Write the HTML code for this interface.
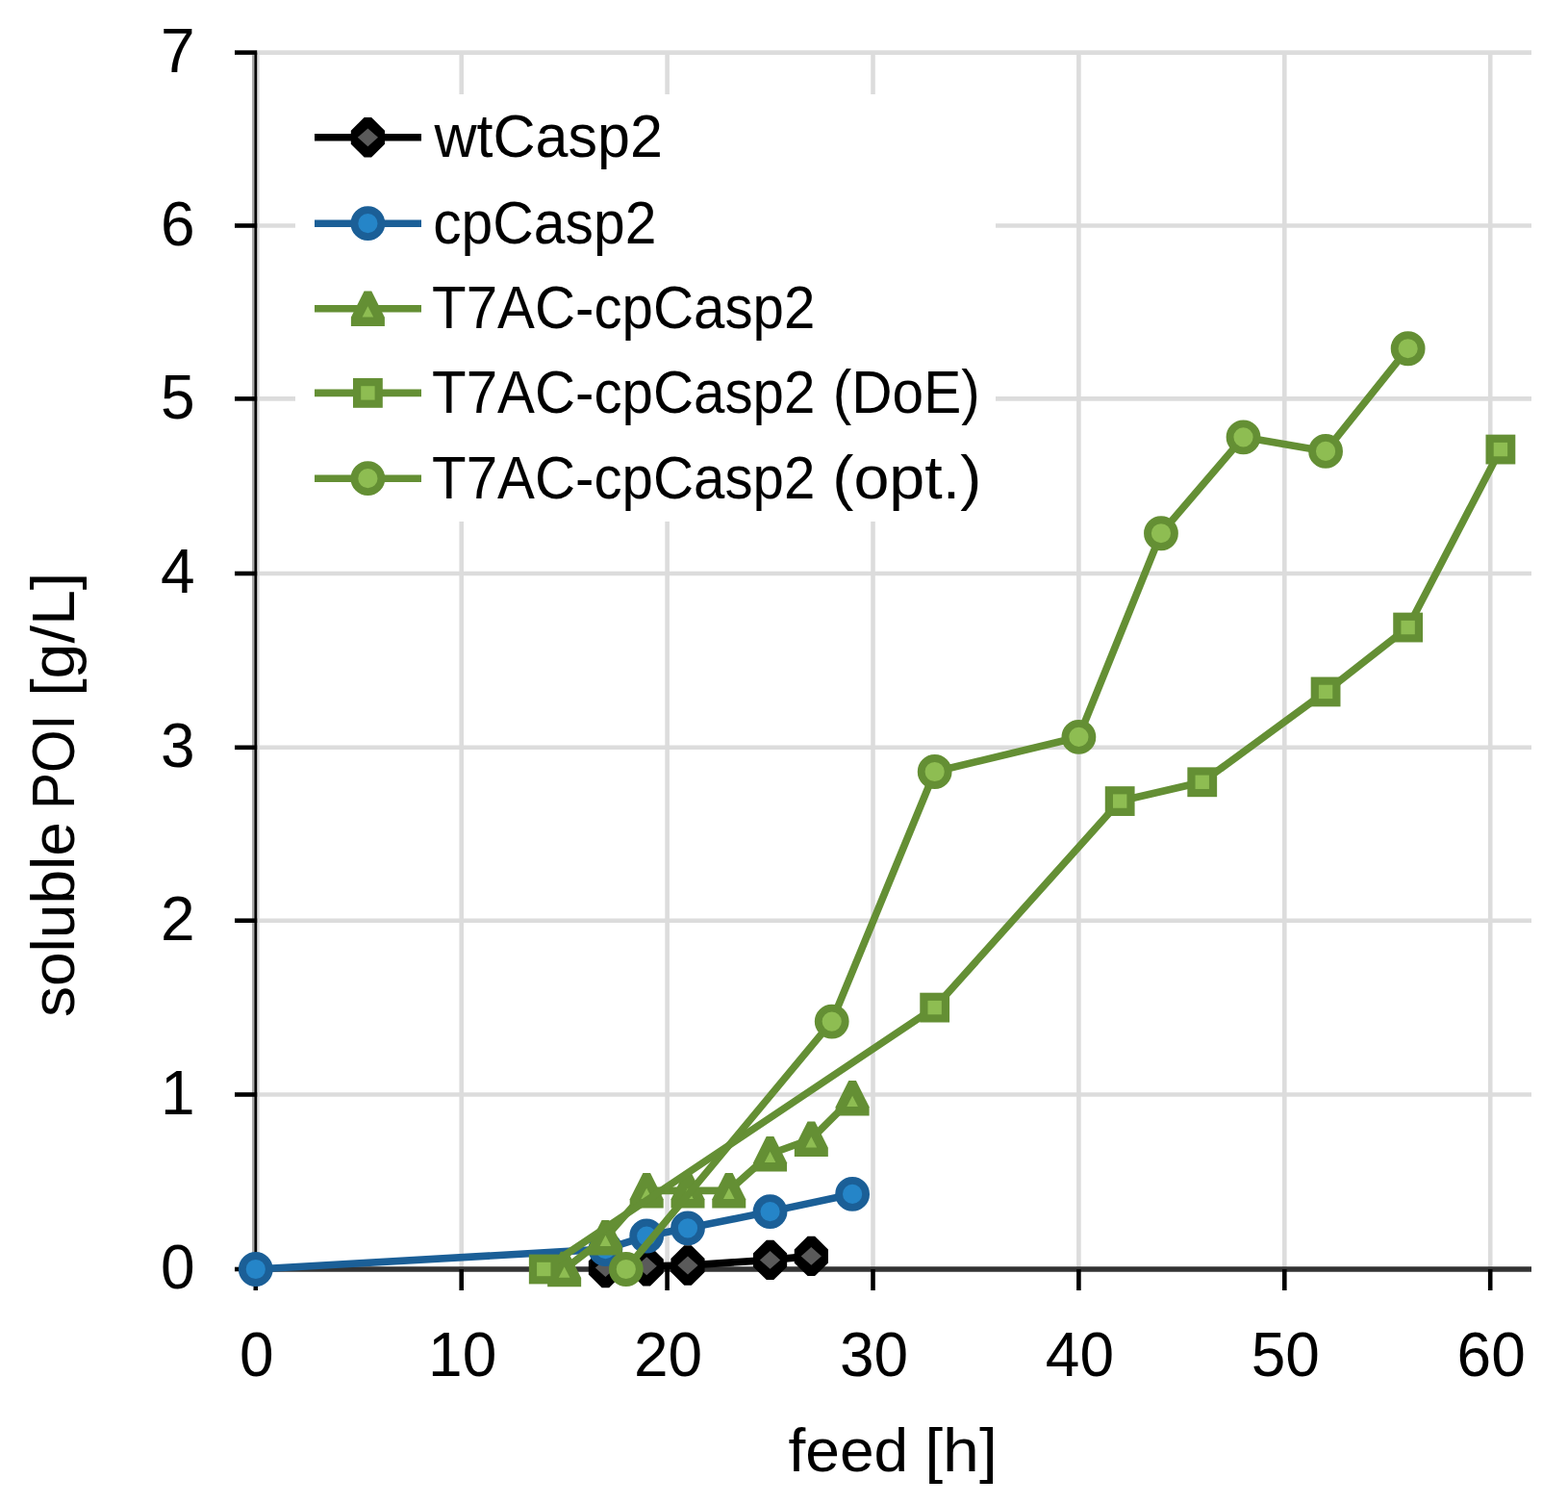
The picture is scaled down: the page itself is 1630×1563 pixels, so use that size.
<!DOCTYPE html>
<html><head><meta charset="utf-8"><title>soluble POI chart</title>
<style>html,body{margin:0;padding:0;background:#fff;}svg{display:block;filter:blur(0.55px);}</style>
</head><body>
<svg width="1630" height="1563" viewBox="0 0 1630 1563"><rect x="0" y="0" width="1630" height="1563" fill="#ffffff"/><g stroke="#dcdcdc" stroke-width="4.6"><line x1="265.8" y1="1137.5" x2="1592" y2="1137.5"/><line x1="265.8" y1="956.7" x2="1592" y2="956.7"/><line x1="265.8" y1="776.8" x2="1592" y2="776.8"/><line x1="265.8" y1="596" x2="1592" y2="596"/><line x1="265.8" y1="414.4" x2="1592" y2="414.4"/><line x1="265.8" y1="234.5" x2="1592" y2="234.5"/><line x1="265.8" y1="54.6" x2="1592" y2="54.6"/><line x1="479.7" y1="54.6" x2="479.7" y2="1319"/><line x1="693.6" y1="54.6" x2="693.6" y2="1319"/><line x1="907.5" y1="54.6" x2="907.5" y2="1319"/><line x1="1121.4" y1="54.6" x2="1121.4" y2="1319"/><line x1="1335.3" y1="54.6" x2="1335.3" y2="1319"/><line x1="1549.2" y1="54.6" x2="1549.2" y2="1319"/></g><rect x="262" y="57.1" width="2.7" height="1261.9" fill="#aaaaaa"/><rect x="267.1" y="57.1" width="2.6" height="1261.9" fill="#dddddd"/><line x1="265.8" y1="1319" x2="1592" y2="1319" stroke="#333333" stroke-width="5.4"/><g stroke="#000" stroke-width="4.6"><line x1="244" y1="1319" x2="267.2" y2="1319"/><line x1="244" y1="1137.5" x2="267.2" y2="1137.5"/><line x1="244" y1="956.7" x2="267.2" y2="956.7"/><line x1="244" y1="776.8" x2="267.2" y2="776.8"/><line x1="244" y1="596" x2="267.2" y2="596"/><line x1="244" y1="414.4" x2="267.2" y2="414.4"/><line x1="244" y1="234.5" x2="267.2" y2="234.5"/><line x1="244" y1="54.6" x2="267.2" y2="54.6"/><line x1="265.8" y1="1319" x2="265.8" y2="1341"/><line x1="479.7" y1="1319" x2="479.7" y2="1341"/><line x1="693.6" y1="1319" x2="693.6" y2="1341"/><line x1="907.5" y1="1319" x2="907.5" y2="1341"/><line x1="1121.4" y1="1319" x2="1121.4" y2="1341"/><line x1="1335.3" y1="1319" x2="1335.3" y2="1341"/><line x1="1549.2" y1="1319" x2="1549.2" y2="1341"/></g><line x1="265.8" y1="54.6" x2="265.8" y2="1319" stroke="#000" stroke-width="2.8"/><g font-family="'Liberation Sans', Arial, sans-serif" font-size="64" fill="#000"><text x="202.5" y="1339.4" text-anchor="end">0</text><text x="202.5" y="1157.9" text-anchor="end">1</text><text x="202.5" y="977.1" text-anchor="end">2</text><text x="202.5" y="797.2" text-anchor="end">3</text><text x="202.5" y="616.4" text-anchor="end">4</text><text x="202.5" y="434.8" text-anchor="end">5</text><text x="202.5" y="254.9" text-anchor="end">6</text><text x="202.5" y="75" text-anchor="end">7</text><text x="266.8" y="1429.5" text-anchor="middle">0</text><text x="480.7" y="1429.5" text-anchor="middle">10</text><text x="694.6" y="1429.5" text-anchor="middle">20</text><text x="908.5" y="1429.5" text-anchor="middle">30</text><text x="1122.4" y="1429.5" text-anchor="middle">40</text><text x="1336.3" y="1429.5" text-anchor="middle">50</text><text x="1550.2" y="1429.5" text-anchor="middle">60</text></g><text transform="translate(819.48,1529.00) scale(1.0171,1)" font-family="'Liberation Sans', Arial, sans-serif" font-size="63">feed</text><text transform="translate(961.18,1529.00) scale(1.0806,1)" font-family="'Liberation Sans', Arial, sans-serif" font-size="63">[h]</text><text transform="translate(77.30,1057.03) rotate(-90) scale(1.0164,1)" font-family="'Liberation Sans', Arial, sans-serif" font-size="63">soluble</text><text transform="translate(77.30,841.04) rotate(-90) scale(0.9071,1)" font-family="'Liberation Sans', Arial, sans-serif" font-size="63">POI</text><text transform="translate(77.30,723.81) rotate(-90) scale(1.0526,1)" font-family="'Liberation Sans', Arial, sans-serif" font-size="63">[g/L]</text><polyline points="629.43,1317.55 672.21,1315.73 714.99,1315.01 800.55,1309.38 843.33,1305.39" fill="none" stroke="#000000" stroke-width="7.6" stroke-linejoin="round"/><polygon points="625.68,1296.85 633.18,1296.85 647.03,1310.55 647.03,1324.55 633.18,1338.25 625.68,1338.25 611.83,1324.55 611.83,1310.55" fill="#000000"/><polygon points="629.43,1308.15 640.03,1317.55 629.43,1326.95 618.83,1317.55" fill="#5a5a5a"/><polygon points="668.46,1295.03 675.96,1295.03 689.81,1308.73 689.81,1322.73 675.96,1336.43 668.46,1336.43 654.61,1322.73 654.61,1308.73" fill="#000000"/><polygon points="672.21,1306.33 682.81,1315.73 672.21,1325.13 661.61,1315.73" fill="#5a5a5a"/><polygon points="711.24,1294.31 718.74,1294.31 732.59,1308.01 732.59,1322.01 718.74,1335.71 711.24,1335.71 697.39,1322.01 697.39,1308.01" fill="#000000"/><polygon points="714.99,1305.61 725.59,1315.01 714.99,1324.41 704.39,1315.01" fill="#5a5a5a"/><polygon points="796.8,1288.68 804.3,1288.68 818.15,1302.38 818.15,1316.38 804.3,1330.08 796.8,1330.08 782.95,1316.38 782.95,1302.38" fill="#000000"/><polygon points="800.55,1299.98 811.15,1309.38 800.55,1318.78 789.95,1309.38" fill="#5a5a5a"/><polygon points="839.58,1284.69 847.08,1284.69 860.93,1298.39 860.93,1312.39 847.08,1326.09 839.58,1326.09 825.73,1312.39 825.73,1298.39" fill="#000000"/><polygon points="843.33,1295.99 853.93,1305.39 843.33,1314.79 832.73,1305.39" fill="#5a5a5a"/><polyline points="265.8,1319 629.43,1298.13 672.21,1284.52 714.99,1276.35 800.55,1259.11 886.11,1240.95" fill="none" stroke="#1b5f97" stroke-width="7.6" stroke-linejoin="round"/><circle cx="265.8" cy="1319" r="14" fill="#2585c8" stroke="#1b5f97" stroke-width="7.8"/><circle cx="629.43" cy="1298.13" r="14" fill="#2585c8" stroke="#1b5f97" stroke-width="7.8"/><circle cx="672.21" cy="1284.52" r="14" fill="#2585c8" stroke="#1b5f97" stroke-width="7.8"/><circle cx="714.99" cy="1276.35" r="14" fill="#2585c8" stroke="#1b5f97" stroke-width="7.8"/><circle cx="800.55" cy="1259.11" r="14" fill="#2585c8" stroke="#1b5f97" stroke-width="7.8"/><circle cx="886.11" cy="1240.95" r="14" fill="#2585c8" stroke="#1b5f97" stroke-width="7.8"/><polyline points="586.65,1319 629.43,1286.33 672.21,1237.33 714.99,1237.33 757.77,1237.33 800.55,1199.21 843.33,1183.78 886.11,1141.13" fill="none" stroke="#648f34" stroke-width="7.6" stroke-linejoin="round"/><polygon points="582.8,1300.75 590.5,1300.75 604.15,1328 604.15,1337.25 569.15,1337.25 569.15,1328" fill="#648f34"/><polygon points="586.65,1316.5 592.45,1327.75 580.85,1327.75" fill="#8ebd52"/><polygon points="625.58,1268.08 633.28,1268.08 646.93,1295.33 646.93,1304.58 611.93,1304.58 611.93,1295.33" fill="#648f34"/><polygon points="629.43,1283.83 635.23,1295.08 623.63,1295.08" fill="#8ebd52"/><polygon points="668.36,1219.08 676.06,1219.08 689.71,1246.33 689.71,1255.58 654.71,1255.58 654.71,1246.33" fill="#648f34"/><polygon points="672.21,1234.83 678.01,1246.08 666.41,1246.08" fill="#8ebd52"/><polygon points="711.14,1219.08 718.84,1219.08 732.49,1246.33 732.49,1255.58 697.49,1255.58 697.49,1246.33" fill="#648f34"/><polygon points="714.99,1234.83 720.79,1246.08 709.19,1246.08" fill="#8ebd52"/><polygon points="753.92,1219.08 761.62,1219.08 775.27,1246.33 775.27,1255.58 740.27,1255.58 740.27,1246.33" fill="#648f34"/><polygon points="757.77,1234.83 763.57,1246.08 751.97,1246.08" fill="#8ebd52"/><polygon points="796.7,1180.96 804.4,1180.96 818.05,1208.21 818.05,1217.46 783.05,1217.46 783.05,1208.21" fill="#648f34"/><polygon points="800.55,1196.71 806.35,1207.96 794.75,1207.96" fill="#8ebd52"/><polygon points="839.48,1165.53 847.18,1165.53 860.83,1192.78 860.83,1202.03 825.83,1202.03 825.83,1192.78" fill="#648f34"/><polygon points="843.33,1181.28 849.13,1192.53 837.53,1192.53" fill="#8ebd52"/><polygon points="882.26,1122.88 889.96,1122.88 903.61,1150.13 903.61,1159.38 868.61,1159.38 868.61,1150.13" fill="#648f34"/><polygon points="886.11,1138.63 891.91,1149.88 880.31,1149.88" fill="#8ebd52"/><polyline points="565.26,1319 971.67,1047.1 1164.18,832.57 1249.74,812.78 1378.08,718.94 1463.64,652.05 1559.89,467.06" fill="none" stroke="#648f34" stroke-width="7.6" stroke-linejoin="round"/><rect x="553.96" y="1307.7" width="22.6" height="22.6" fill="#8ebd52" stroke="#648f34" stroke-width="8.2"/><rect x="960.37" y="1035.8" width="22.6" height="22.6" fill="#8ebd52" stroke="#648f34" stroke-width="8.2"/><rect x="1152.88" y="821.27" width="22.6" height="22.6" fill="#8ebd52" stroke="#648f34" stroke-width="8.2"/><rect x="1238.44" y="801.48" width="22.6" height="22.6" fill="#8ebd52" stroke="#648f34" stroke-width="8.2"/><rect x="1366.78" y="707.64" width="22.6" height="22.6" fill="#8ebd52" stroke="#648f34" stroke-width="8.2"/><rect x="1452.34" y="640.75" width="22.6" height="22.6" fill="#8ebd52" stroke="#648f34" stroke-width="8.2"/><rect x="1548.6" y="455.76" width="22.6" height="22.6" fill="#8ebd52" stroke="#648f34" stroke-width="8.2"/><polyline points="650.82,1319 864.72,1061.56 971.67,801.99 1121.4,765.95 1206.96,554.23 1292.52,454.35 1378.08,468.88 1463.64,362.23" fill="none" stroke="#648f34" stroke-width="7.6" stroke-linejoin="round"/><circle cx="650.82" cy="1319" r="14" fill="#8ebd52" stroke="#648f34" stroke-width="7.8"/><circle cx="864.72" cy="1061.56" r="14" fill="#8ebd52" stroke="#648f34" stroke-width="7.8"/><circle cx="971.67" cy="801.99" r="14" fill="#8ebd52" stroke="#648f34" stroke-width="7.8"/><circle cx="1121.4" cy="765.95" r="14" fill="#8ebd52" stroke="#648f34" stroke-width="7.8"/><circle cx="1206.96" cy="554.23" r="14" fill="#8ebd52" stroke="#648f34" stroke-width="7.8"/><circle cx="1292.52" cy="454.35" r="14" fill="#8ebd52" stroke="#648f34" stroke-width="7.8"/><circle cx="1378.08" cy="468.88" r="14" fill="#8ebd52" stroke="#648f34" stroke-width="7.8"/><circle cx="1463.64" cy="362.23" r="14" fill="#8ebd52" stroke="#648f34" stroke-width="7.8"/><rect x="307" y="98" width="728" height="444" fill="#ffffff"/><line x1="327" y1="142.8" x2="438" y2="142.8" stroke="#000000" stroke-width="7.6"/><polygon points="378.65,122.1 386.15,122.1 400,135.8 400,149.8 386.15,163.5 378.65,163.5 364.8,149.8 364.8,135.8" fill="#000000"/><polygon points="382.4,133.4 393,142.8 382.4,152.2 371.8,142.8" fill="#5a5a5a"/><text transform="translate(451.50,163.20) scale(0.9690,1)" font-family="'Liberation Sans', Arial, sans-serif" font-size="63">wtCasp2</text><line x1="327" y1="232.2" x2="438" y2="232.2" stroke="#1b5f97" stroke-width="7.6"/><circle cx="382.4" cy="232.2" r="14" fill="#2585c8" stroke="#1b5f97" stroke-width="7.8"/><text transform="translate(450.20,252.60) scale(0.9339,1)" font-family="'Liberation Sans', Arial, sans-serif" font-size="63">cpCasp2</text><line x1="327" y1="320.8" x2="438" y2="320.8" stroke="#648f34" stroke-width="7.6"/><polygon points="378.55,302.55 386.25,302.55 399.9,329.8 399.9,339.05 364.9,339.05 364.9,329.8" fill="#648f34"/><polygon points="382.4,318.3 388.2,329.55 376.6,329.55" fill="#8ebd52"/><text transform="translate(449.07,341.20) scale(0.9251,1)" font-family="'Liberation Sans', Arial, sans-serif" font-size="63">T7AC-cpCasp2</text><line x1="327" y1="408.4" x2="438" y2="408.4" stroke="#648f34" stroke-width="7.6"/><rect x="371.1" y="397.1" width="22.6" height="22.6" fill="#8ebd52" stroke="#648f34" stroke-width="8.2"/><text transform="translate(449.07,428.80) scale(0.9251,1)" font-family="'Liberation Sans', Arial, sans-serif" font-size="63">T7AC-cpCasp2</text><text transform="translate(865.78,428.80) scale(0.9299,1)" font-family="'Liberation Sans', Arial, sans-serif" font-size="63">(DoE)</text><line x1="327" y1="497.2" x2="438" y2="497.2" stroke="#648f34" stroke-width="7.6"/><circle cx="382.4" cy="497.2" r="14" fill="#8ebd52" stroke="#648f34" stroke-width="7.8"/><text transform="translate(449.07,517.60) scale(0.9251,1)" font-family="'Liberation Sans', Arial, sans-serif" font-size="63">T7AC-cpCasp2</text><text transform="translate(865.28,517.60) scale(1.0540,1)" font-family="'Liberation Sans', Arial, sans-serif" font-size="63">(opt.)</text></svg>
</body></html>
